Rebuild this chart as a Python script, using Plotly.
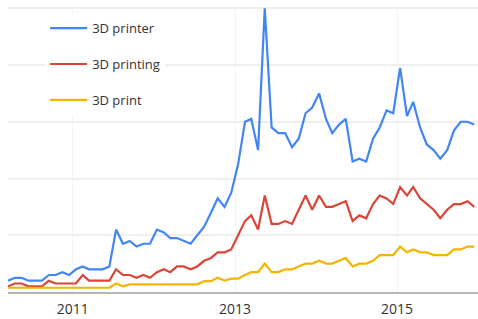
import plotly.graph_objects as go

# Monthly observations, Mar 2010 .. Dec 2015 (plotted mid-month)
months = [f"{y}-{m:02d}-15" for y in range(2010, 2016) for m in range(1, 13)][2:]

printer = [4, 5, 5, 4, 4, 4, 6, 6, 7, 6,
           8, 9, 8, 8, 8, 9, 22, 17, 18, 16, 17, 17,
           22, 21, 19, 19, 18, 17, 20, 23, 28, 33, 30, 35,
           45, 60, 61, 50, 100, 58, 56, 56, 51, 54, 63, 65,
           70, 61, 56, 59, 61, 46, 47, 46, 54, 58, 64, 63,
           79, 62, 67, 58, 52, 50, 47, 50, 57, 60, 60, 59]

printing = [2, 3, 3, 2, 2, 2, 4, 3, 3, 3,
            3, 6, 4, 4, 4, 4, 8, 6, 6, 5, 6, 5,
            7, 8, 7, 9, 9, 8, 9, 11, 12, 14, 14, 15,
            20, 25, 27, 22, 34, 24, 24, 25, 24, 29, 34, 29,
            34, 30, 30, 31, 32, 25, 27, 26, 31, 34, 33, 31,
            37, 34, 37, 33, 31, 29, 26, 29, 31, 31, 32, 30]

printt = [1.5, 1.5, 1.5, 1.5, 1.5, 1.5, 1.5, 1.5, 1.5, 1.5,
          1.5, 1.5, 1.5, 1.5, 1.5, 1.5, 3, 2, 2.7, 2.7, 2.7, 2.7,
          2.7, 2.7, 2.7, 2.7, 2.7, 2.7, 2.7, 3.8, 3.8, 5, 4, 4.7,
          4.7, 6, 7, 7, 10, 7, 7, 8, 8, 9, 10, 10,
          11, 10, 10, 11, 12, 9, 10, 10, 11, 13, 13, 13,
          16, 14, 15, 14, 14, 13, 13, 13, 15, 15, 16, 16]

series = [("3D printer", printer, "#4285f4"),
          ("3D printing", printing, "#db4437"),
          ("3D print", printt, "#f4b400")]

fig = go.Figure()
for name, vals, col in series:
    fig.add_trace(go.Scatter(x=months, y=vals, name=name, mode="lines",
                             legendgroup=name,
                             line=dict(color=col, width=2.2)))

fig.update_layout(
    width=478, height=319, autosize=False,
    margin=dict(l=8, r=0, t=6, b=27, autoexpand=False),
    paper_bgcolor="white", plot_bgcolor="white",
    font=dict(family="Open Sans, Arial, sans-serif", color="#333333"),
    showlegend=True,
    legend=dict(x=0.079, y=0.975, xanchor="left", yanchor="top",
                bgcolor="white", traceorder="grouped", tracegroupgap=16,
                itemwidth=37, font=dict(size=13, color="#333333")),
    xaxis=dict(type="date", range=["2010-03-15", "2016-01-01"],
               tick0="2011-01-01", dtick="M24", tickformat="%Y",
               showgrid=True, gridcolor="#f4f4f4", gridwidth=1,
               showline=True, linecolor="#b5b5b5", linewidth=2,
               ticks="", ticklabelstandoff=3,
               tickfont=dict(size=14, color="#333333"),
               automargin=False, zeroline=False, fixedrange=True),
    yaxis=dict(range=[0, 100.8], dtick=20, showticklabels=False,
               showgrid=True, gridcolor="#efefef", gridwidth=2,
               automargin=False, zeroline=False, showline=False,
               fixedrange=True),
)

fig.write_html("out.html",
               config={"displayModeBar": False, "staticPlot": True},
               post_script="document.body.style.margin='0';document.body.style.padding='0';")
